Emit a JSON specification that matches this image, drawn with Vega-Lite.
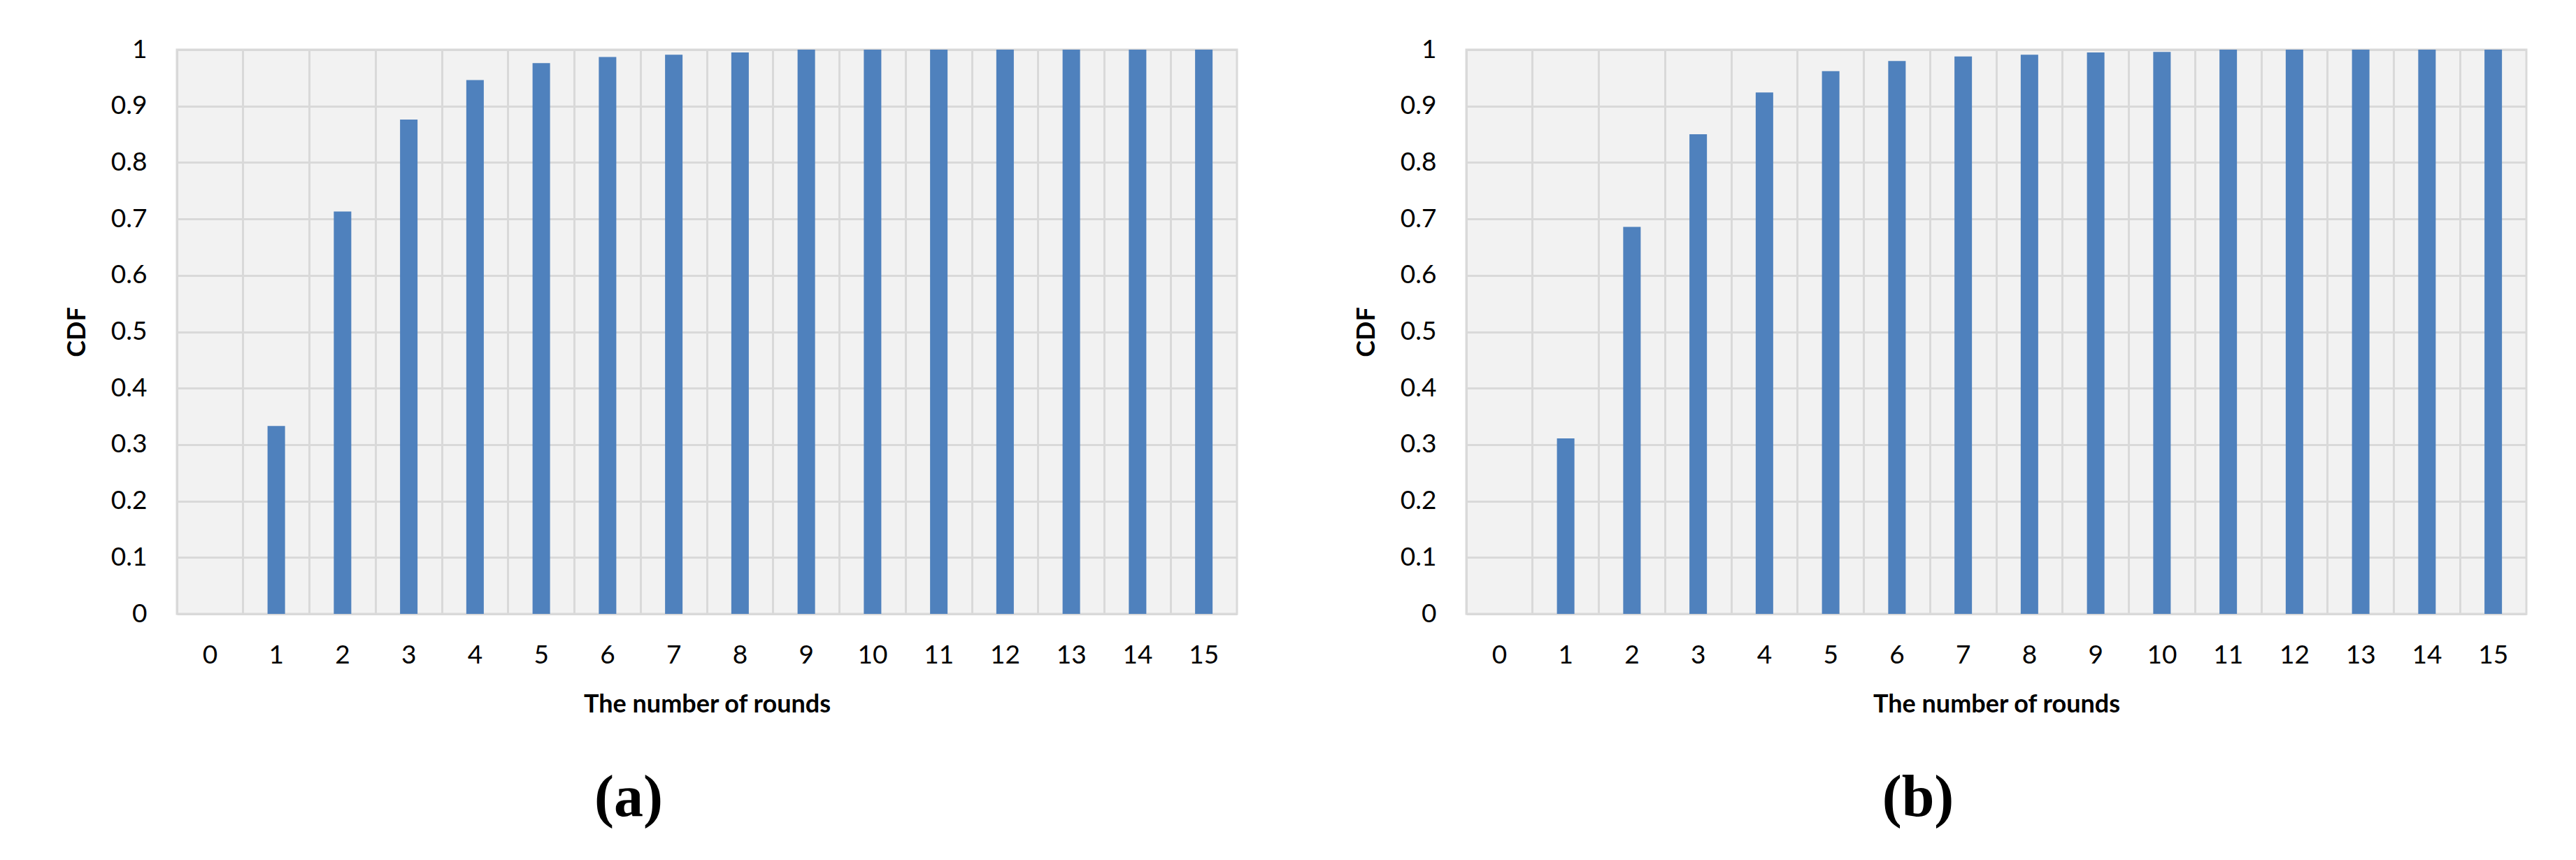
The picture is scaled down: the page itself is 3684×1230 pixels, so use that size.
{
  "$schema": "https://vega.github.io/schema/vega-lite/v6.json",
  "autosize": {"type": "none"},
  "padding": {"left": 253, "top": 71, "right": 3431, "bottom": 1159},
  "background": "white",
  "spacing": 328,
  "bounds": "flush",
  "datasets": {
    "a": [
      {"round": 0, "cdf": 0},
      {"round": 1, "cdf": 0.333},
      {"round": 2, "cdf": 0.713},
      {"round": 3, "cdf": 0.876},
      {"round": 4, "cdf": 0.946},
      {"round": 5, "cdf": 0.976},
      {"round": 6, "cdf": 0.987},
      {"round": 7, "cdf": 0.991},
      {"round": 8, "cdf": 0.995},
      {"round": 9, "cdf": 1},
      {"round": 10, "cdf": 1},
      {"round": 11, "cdf": 1},
      {"round": 12, "cdf": 1},
      {"round": 13, "cdf": 1},
      {"round": 14, "cdf": 1},
      {"round": 15, "cdf": 1}
    ],
    "b": [
      {"round": 0, "cdf": 0},
      {"round": 1, "cdf": 0.311},
      {"round": 2, "cdf": 0.686},
      {"round": 3, "cdf": 0.85},
      {"round": 4, "cdf": 0.924},
      {"round": 5, "cdf": 0.962},
      {"round": 6, "cdf": 0.98},
      {"round": 7, "cdf": 0.988},
      {"round": 8, "cdf": 0.991},
      {"round": 9, "cdf": 0.995},
      {"round": 10, "cdf": 0.996},
      {"round": 11, "cdf": 1},
      {"round": 12, "cdf": 1},
      {"round": 13, "cdf": 1},
      {"round": 14, "cdf": 1},
      {"round": 15, "cdf": 1}
    ]
  },
  "config": {
    "font": "Lato",
    "view": {"stroke": "#d9d9d9", "strokeWidth": 3, "fill": "#f2f2f2"},
    "axis": {
      "grid": true,
      "gridColor": "#d9d9d9",
      "gridWidth": 3,
      "gridOpacity": 1,
      "domain": false,
      "ticks": false,
      "labelFont": "Lato",
      "labelFontSize": 37,
      "labelColor": "#000000",
      "titleFont": "Lato",
      "titleFontSize": 36,
      "titleFontWeight": "bold",
      "titleColor": "#000000"
    },
    "title": {
      "font": "Liberation Serif",
      "fontSize": 84,
      "fontWeight": "bold",
      "color": "#000000",
      "orient": "bottom",
      "anchor": "middle",
      "baseline": "alphabetic",
      "dx": -112,
      "offset": 76
    }
  },
  "hconcat": [
    {
      "data": {"name": "a"},
      "width": 1516,
      "height": 807,
      "title": {"text": "(a)"},
      "mark": {"type": "bar", "color": "#4f81bd", "width": {"band": 0.264}},
      "encoding": {
        "x": {
          "field": "round",
          "type": "ordinal",
          "scale": {"paddingInner": 0, "paddingOuter": 0},
          "axis": {
            "title": "The number of rounds",
            "labelAngle": 0,
            "labelBaseline": "alphabetic",
            "labelPadding": 70,
            "bandPosition": 0,
            "titleX": 758,
            "titleY": 140,
            "titleBaseline": "alphabetic"
          }
        },
        "y": {
          "field": "cdf",
          "type": "quantitative",
          "scale": {"domain": [0, 1]},
          "axis": {
            "title": "CDF",
            "values": [0, 0.1, 0.2, 0.3, 0.4, 0.5, 0.6, 0.7, 0.8, 0.9, 1],
            "format": "~g",
            "labelPadding": 43,
            "titleX": -143,
            "titleY": 403.5,
            "titleBaseline": "middle",
            "titleAlign": "center"
          }
        }
      }
    },
    {
      "data": {"name": "b"},
      "width": 1516,
      "height": 807,
      "title": {"text": "(b)"},
      "mark": {"type": "bar", "color": "#4f81bd", "width": {"band": 0.264}},
      "encoding": {
        "x": {
          "field": "round",
          "type": "ordinal",
          "scale": {"paddingInner": 0, "paddingOuter": 0},
          "axis": {
            "title": "The number of rounds",
            "labelAngle": 0,
            "labelBaseline": "alphabetic",
            "labelPadding": 70,
            "bandPosition": 0,
            "titleX": 758,
            "titleY": 140,
            "titleBaseline": "alphabetic"
          }
        },
        "y": {
          "field": "cdf",
          "type": "quantitative",
          "scale": {"domain": [0, 1]},
          "axis": {
            "title": "CDF",
            "values": [0, 0.1, 0.2, 0.3, 0.4, 0.5, 0.6, 0.7, 0.8, 0.9, 1],
            "format": "~g",
            "labelPadding": 43,
            "titleX": -143,
            "titleY": 403.5,
            "titleBaseline": "middle",
            "titleAlign": "center"
          }
        }
      }
    }
  ]
}
